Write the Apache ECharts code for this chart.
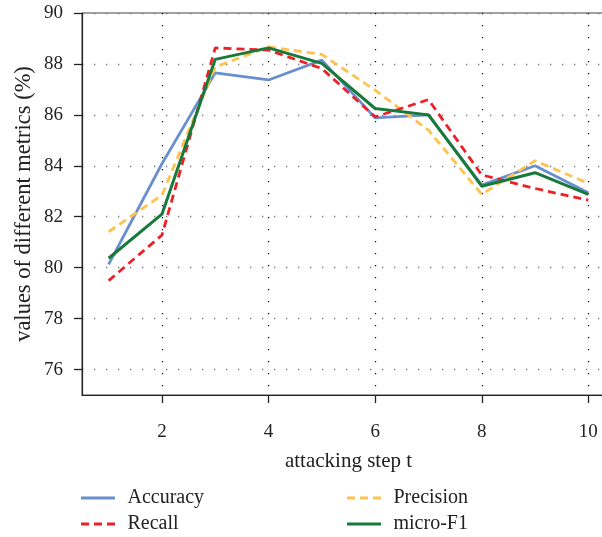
<!DOCTYPE html>
<html>
<head>
<meta charset="utf-8">
<script src="https://cdn.jsdelivr.net/npm/echarts@6/dist/echarts.min.js"></script>
<style>
html,body{margin:0;padding:0;background:#fff;overflow:hidden;}
#c{width:620px;height:537px;}
</style>
</head>
<body>
<div id="c"></div>
<script>
const steps = ['1','2','3','4','5','6','7','8','9','10'];
const accuracy  = [80.13, 84.08, 87.65, 87.37, 88.15, 85.88, 86.00, 83.24, 84.00, 82.94];
const precision = [81.41, 82.85, 87.88, 88.67, 88.37, 86.97, 85.40, 82.88, 84.20, 83.31];
const recall    = [79.49, 81.28, 88.63, 88.54, 87.82, 85.92, 86.60, 83.64, 83.11, 82.65];
const microF1   = [80.37, 82.10, 88.18, 88.63, 88.02, 86.25, 86.00, 83.20, 83.73, 82.88];
const yTicks = [76, 78, 80, 82, 84, 86, 88, 90];

const FONT = 'Liberation Serif';
const evenIdx = (i) => i % 2 === 1;
const SOLID_ICON = 'path://M0,0h34v3h-34z';
const DASH_ICON = 'path://M0,0h8v3h-8z M13,0h8v3h-8z M26,0h8v3h-8z';

const chart = echarts.init(document.getElementById('c'), null, {renderer: 'canvas'});
const mk = (name, data, color, type, width, z) => ({
  name, type: 'line', data, symbol: 'none', z,
  lineStyle: {color, width, type},
  itemStyle: {color}
});
const lg = (name, icon, left, top) => ({
  left, top, padding: 0, itemWidth: 35, itemHeight: 3, icon,
  data: [name],
  textStyle: {fontFamily: FONT, fontSize: 20, color: '#222', padding: [0, 0, 0, 7]}
});
chart.setOption({
  animation: false,
  backgroundColor: '#fff',
  grid: {left: 82, top: 13, width: 533, height: 382, show: true, borderColor: '#444', borderWidth: 1, containLabel: false},
  xAxis: {
    type: 'category', data: steps, boundaryGap: true,
    name: 'attacking step t', nameLocation: 'middle', nameGap: 56,
    nameTextStyle: {fontFamily: FONT, fontSize: 21, color: '#222'},
    axisLine: {lineStyle: {color: '#222', width: 1.2}},
    axisTick: {show: true, alignWithLabel: true, interval: evenIdx, length: 8, lineStyle: {color: '#222', width: 1.3}},
    axisLabel: {interval: evenIdx, margin: 28, fontFamily: FONT, fontSize: 19, color: '#222'},
    splitLine: {show: true, alignWithLabel: true, interval: evenIdx, lineStyle: {color: '#111', width: 1.3, type: [1.3, 10.7]}}
  },
  yAxis: {
    type: 'value', min: 75, max: 90, splitNumber: 7,
    name: 'values of different metrics (%)', nameLocation: 'middle', nameGap: 46, nameMoveOverlap: false,
    nameTextStyle: {fontFamily: FONT, fontSize: 22.5, color: '#222'},
    axisLine: {show: true, lineStyle: {color: '#222', width: 1.2}},
    axisTick: {show: true, length: 8, customValues: yTicks, lineStyle: {color: '#222', width: 1.3}},
    axisLabel: {margin: 19, customValues: yTicks, fontFamily: FONT, fontSize: 19, color: '#222',
      formatter: (v) => (v % 2 === 0 ? String(v) : '')},
    splitLine: {show: true, lineStyle: {color: '#777', width: 1.3, type: [1.3, 10.7]}}
  },
  legend: [
    lg('Accuracy', SOLID_ICON, 81, 488),
    lg('Recall', DASH_ICON, 81, 514),
    lg('Precision', DASH_ICON, 347, 488),
    lg('micro-F1', SOLID_ICON, 347, 514)
  ],
  series: [
    mk('Accuracy', accuracy, '#6a8fd0', 'solid', 2.8, 2),
    mk('Precision', precision, '#ffc24f', [8, 5], 2.8, 3),
    mk('Recall', recall, '#ee2027', [8, 5], 2.8, 4),
    mk('micro-F1', microF1, '#177a3a', 'solid', 3, 5)
  ]
});
</script>
</body>
</html>
